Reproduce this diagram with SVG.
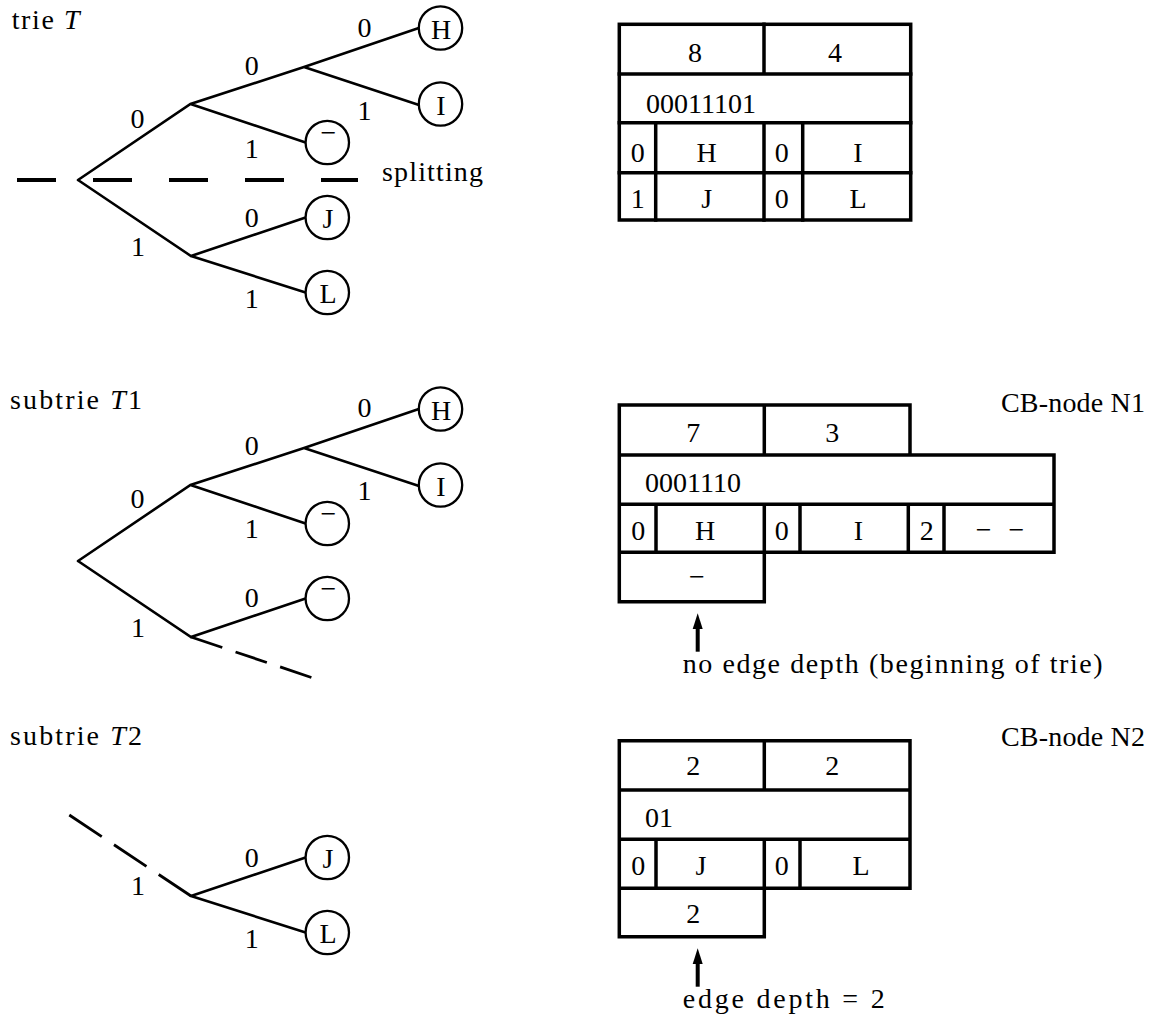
<svg xmlns="http://www.w3.org/2000/svg" width="1160" height="1019" viewBox="0 0 1160 1019">
<style>
.t{font-family:"Liberation Serif","Times New Roman",serif;font-size:28px;fill:#000}
.m{text-anchor:middle}
.e{stroke:#000;stroke-width:2.6;fill:none;stroke-linecap:round}
.c{fill:#fff;stroke:#000;stroke-width:2.3}
.tb{fill:none;stroke:#000;stroke-width:3.5;stroke-linecap:square}
.ar{stroke:#000;stroke-width:4;fill:none}
</style>
<rect width="1160" height="1019" fill="#fff"/>

<g id="labels">
<text class="t" x="11.7" y="29.3" textLength="68" lengthAdjust="spacing">trie <tspan font-style="italic">T</tspan></text>
<text class="t" x="382" y="181" textLength="101" lengthAdjust="spacing">splitting</text>
<text class="t" x="10" y="409" textLength="132" lengthAdjust="spacing">subtrie <tspan font-style="italic">T</tspan>1</text>
<text class="t" x="10" y="745" textLength="132" lengthAdjust="spacing">subtrie <tspan font-style="italic">T</tspan>2</text>
<text class="t" x="1001" y="412" textLength="144" lengthAdjust="spacing">CB-node N1</text>
<text class="t" x="1001" y="746" textLength="144" lengthAdjust="spacing">CB-node N2</text>
<text class="t" x="682.7" y="673.3" textLength="420" lengthAdjust="spacing">no edge depth (beginning of trie)</text>
<text class="t" x="682.7" y="1008.3" textLength="202" lengthAdjust="spacing">edge depth = 2</text>
</g>

<g id="connectors">
<!-- trie T -->
<path class="e" d="M78,180 L190.5,104 L304,67 L418.8,28 M304,67 L419,105 M190.5,104 L305.6,142.5 M78,180 L191,256 L305.6,217.5 M191,256 L305.6,292.5"/>
<path d="M17,180 H358" stroke="#000" stroke-width="4" stroke-dasharray="39 37" fill="none"/>
<!-- subtrie T1 -->
<g transform="translate(0,381)">
<path class="e" d="M78,180 L190.5,104 L304,67 L418.8,28 M304,67 L419,105 M190.5,104 L305.6,142.5 M78,180 L191,256 L305.6,217.5"/>
<path d="M191,256 L313,297" stroke="#000" stroke-width="2.8" stroke-dasharray="33 14" fill="none"/>
</g>
<!-- subtrie T2 -->
<g transform="translate(0,640)">
<path d="M69.3,175 L191,256" stroke="#000" stroke-width="2.8" stroke-dasharray="39 14.7" fill="none"/>
<path class="e" d="M191,256 L305.6,217.5 M191,256 L305.6,292.5"/>
</g>
<!-- arrows -->
<path class="ar" d="M697.7,651.7 V626"/>
<polygon points="697.7,613.3 692.7,629 702.7,629" fill="#000"/>
<path class="ar" d="M697.7,986.7 V961"/>
<polygon points="697.7,948.3 692.7,964 702.7,964" fill="#000"/>
</g>

<!-- trie T nodes -->
<g id="T-H"><circle class="c" cx="440.5" cy="28" r="21.7"/><text class="t m" x="441" y="38.5">H</text></g>
<g id="T-I"><circle class="c" cx="440.5" cy="104" r="21.7"/><text class="t m" x="441" y="114.5">I</text></g>
<g id="T-empty"><circle class="c" cx="327.3" cy="142.5" r="21.7"/><text class="t m" x="328.5" y="142">−</text></g>
<g id="T-J"><circle class="c" cx="327.3" cy="217.5" r="21.7"/><text class="t m" x="328" y="228">J</text></g>
<g id="T-L"><circle class="c" cx="327.3" cy="292.5" r="21.7"/><text class="t m" x="328" y="303">L</text></g>
<g id="T-edgelabels">
<text class="t m" x="137.5" y="128">0</text>
<text class="t m" x="251.7" y="75">0</text>
<text class="t m" x="364.5" y="37">0</text>
<text class="t m" x="364.5" y="120">1</text>
<text class="t m" x="251.7" y="158">1</text>
<text class="t m" x="138" y="256">1</text>
<text class="t m" x="251.7" y="227">0</text>
<text class="t m" x="251.7" y="308">1</text>
</g>

<!-- subtrie T1 nodes -->
<g transform="translate(0,381)">
<g id="T1-H"><circle class="c" cx="440.5" cy="28" r="21.7"/><text class="t m" x="441" y="38.5">H</text></g>
<g id="T1-I"><circle class="c" cx="440.5" cy="104" r="21.7"/><text class="t m" x="441" y="114.5">I</text></g>
<g id="T1-empty1"><circle class="c" cx="327.3" cy="142.5" r="21.7"/><text class="t m" x="328.5" y="142">−</text></g>
<g id="T1-empty2"><circle class="c" cx="327.3" cy="217.5" r="21.7"/><text class="t m" x="328.5" y="217">−</text></g>
<g id="T1-edgelabels">
<text class="t m" x="137.5" y="127.3">0</text>
<text class="t m" x="251.7" y="74">0</text>
<text class="t m" x="364.5" y="35.7">0</text>
<text class="t m" x="364.5" y="119">1</text>
<text class="t m" x="251.7" y="157.3">1</text>
<text class="t m" x="138" y="255.7">1</text>
<text class="t m" x="251.7" y="225.7">0</text>
</g>
</g>

<!-- subtrie T2 nodes -->
<g transform="translate(0,640)">
<g id="T2-J"><circle class="c" cx="327.3" cy="217.5" r="21.7"/><text class="t m" x="328" y="228">J</text></g>
<g id="T2-L"><circle class="c" cx="327.3" cy="292.5" r="21.7"/><text class="t m" x="328" y="303">L</text></g>
<g id="T2-edgelabels">
<text class="t m" x="138" y="255">1</text>
<text class="t m" x="251.7" y="226.7">0</text>
<text class="t m" x="251.7" y="308.3">1</text>
</g>
</g>

<!-- table for trie T -->
<g id="table-T">
<rect class="tb" x="619.3" y="24.3" width="291.4" height="195.7"/>
<path class="tb" d="M619.3,74 H910.7 M619.3,122.7 H910.7 M619.3,172.7 H910.7 M764,24.3 V74 M655.7,122.7 V220 M764,122.7 V220 M802.7,122.7 V220"/>
<text class="t m" x="695" y="61.7">8</text>
<text class="t m" x="835" y="61.7">4</text>
<text class="t" x="646" y="112.7">00011101</text>
<text class="t m" x="637.7" y="161.7">0</text>
<text class="t m" x="706.7" y="161.7">H</text>
<text class="t m" x="781.7" y="161.7">0</text>
<text class="t m" x="858" y="161.7">I</text>
<text class="t m" x="637.7" y="208.3">1</text>
<text class="t m" x="706.7" y="208.3">J</text>
<text class="t m" x="781.7" y="208.3">0</text>
<text class="t m" x="858" y="208.3">L</text>
</g>

<!-- CB-node N1 -->
<g id="N1">
<path class="tb" d="M619.3,455 V405 H910 V455 M619.3,455 H1054 V552.3 H619.3 Z M619.3,504.3 H1054 M619.3,552.3 V601.7 H764.3 V552.3 M764.3,405 V455 M656,504.3 V552.3 M764.3,504.3 V552.3 M800,504.3 V552.3 M908.3,504.3 V552.3 M944,504.3 V552.3"/>
<text class="t m" x="693.3" y="441.7">7</text>
<text class="t m" x="832.3" y="441.7">3</text>
<text class="t" x="645" y="491.7">0001110</text>
<text class="t m" x="638.3" y="540">0</text>
<text class="t m" x="705" y="540">H</text>
<text class="t m" x="781.7" y="540">0</text>
<text class="t m" x="858.3" y="540">I</text>
<text class="t m" x="926.7" y="540">2</text>
<text class="t m" x="1000" y="538.7" word-spacing="10">− −</text>
<text class="t m" x="697" y="586.3">−</text>
</g>

<!-- CB-node N2 -->
<g id="N2">
<path class="tb" d="M619.3,740.7 H910 V888.3 H619.3 Z M619.3,790 H910 M619.3,839.3 H910 M764.3,740.7 V790 M656,839.3 V888.3 M764.3,839.3 V888.3 M800,839.3 V888.3 M619.3,888.3 V936.7 H764.3 V888.3"/>
<text class="t m" x="693.3" y="775">2</text>
<text class="t m" x="832.3" y="775">2</text>
<text class="t" x="645" y="826.7">01</text>
<text class="t m" x="638.3" y="875">0</text>
<text class="t m" x="701" y="875">J</text>
<text class="t m" x="781.7" y="875">0</text>
<text class="t m" x="861" y="875">L</text>
<text class="t m" x="693.3" y="922.7">2</text>
</g>
</svg>
